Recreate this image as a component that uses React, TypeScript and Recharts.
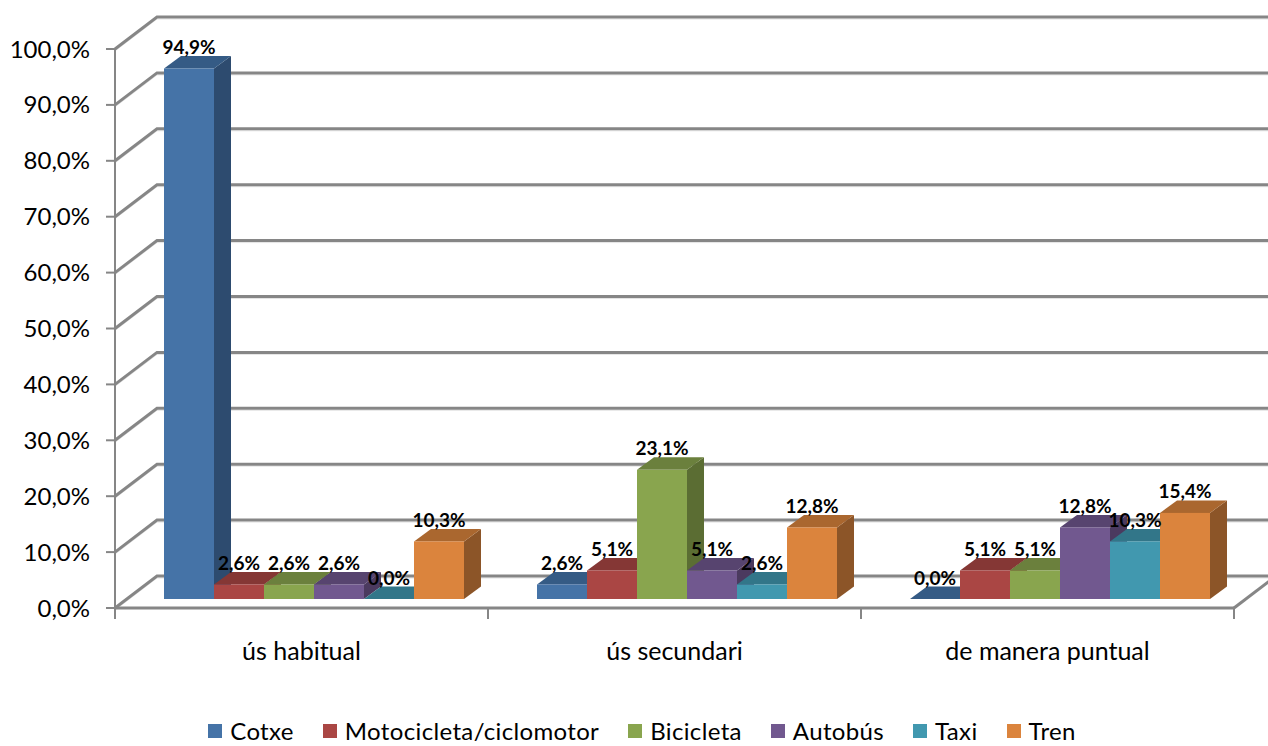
import React from "react";
import { BarChart, Bar, XAxis, YAxis, CartesianGrid, Legend, LabelList } from "recharts";

const categories = ["ús habitual", "ús secundari", "de manera puntual"];
const cotxe = [94.9, 2.6, 0.0];
const moto = [2.6, 5.1, 5.1];
const bicicleta = [2.6, 23.1, 5.1];
const autobus = [2.6, 5.1, 12.8];
const taxi = [0.0, 2.6, 10.3];
const tren = [10.3, 12.8, 15.4];
const yTicks = [0, 10, 20, 30, 40, 50, 60, 70, 80, 90, 100];

const seriesList = [
  { key: "Cotxe", values: cotxe, front: "#4573A7", top: "#355B85", side: "#2D4B6F" },
  { key: "Motocicleta/ciclomotor", values: moto, front: "#AA4644", top: "#853735", side: "#702E2D" },
  { key: "Bicicleta", values: bicicleta, front: "#89A54E", top: "#6B803D", side: "#5B6D33" },
  { key: "Autobús", values: autobus, front: "#71588F", top: "#57446F", side: "#4B3A5F" },
  { key: "Taxi", values: taxi, front: "#4198AF", top: "#327689", side: "#2B6475" },
  { key: "Tren", values: tren, front: "#DB843D", top: "#AA672F", side: "#8C5528" },
];

const rows = categories.map((c, i) => {
  const row: Record<string, string | number> = { category: c };
  seriesList.forEach((s) => {
    row[s.key] = s.values[i];
  });
  return row;
});

const FONT = "Lato, Carlito, sans-serif";
const GRID = "#868686";
const WALL_DX = 42;
const WALL_DY = 32;
const BAR_DX = 17;
const BAR_DY = 12.5;
const SHIFT_X = 12.5;
const SHIFT_Y = -9;
const BAND = 373;

const fmt = (v: number) => v.toFixed(1).replace(".", ",") + "%";

function Bar3D(props: any) {
  const { x, y, width, height, front, top, side } = props;
  const l = x + SHIFT_X;
  const r = l + width;
  const t = y + SHIFT_Y;
  const b = t + height;
  return (
    <g>
      <polygon points={`${r},${t} ${r + BAR_DX},${t - BAR_DY} ${r + BAR_DX},${b - BAR_DY} ${r},${b}`} fill={side} />
      <polygon points={`${l},${t} ${l + BAR_DX},${t - BAR_DY} ${r + BAR_DX},${t - BAR_DY} ${r},${t}`} fill={top} />
      <rect x={l} y={t} width={width} height={height} fill={front} />
    </g>
  );
}

function BarLabel(props: any) {
  const { x, y, width, value } = props;
  return (
    <text
      x={x + SHIFT_X + width / 2}
      y={y + SHIFT_Y - 22}
      textAnchor="middle"
      dominantBaseline="central"
      fontFamily={FONT}
      fontWeight={700}
      fontSize={19}
      fill="#000"
    >
      {fmt(value)}
    </text>
  );
}

function GridLine(props: any) {
  const { x1, y1 } = props;
  return (
    <g>
      <polyline
        points={`${x1},${y1 + 2} ${x1 + WALL_DX},${y1 - WALL_DY + 2} 1268,${y1 - WALL_DY + 2}`}
        fill="none"
        stroke="#E4E4E4"
        strokeWidth={1}
      />
      <polyline
        points={`${x1},${y1} ${x1 + WALL_DX},${y1 - WALL_DY} 1268,${y1 - WALL_DY}`}
        fill="none"
        stroke={GRID}
        strokeWidth={3}
      />
    </g>
  );
}

function XTick(props: any) {
  const { x, y, payload, index } = props;
  const left = x - BAND / 2;
  const right = x + BAND / 2;
  const axisY = y - 8;
  return (
    <g>
      <line x1={left} y1={axisY} x2={left} y2={axisY + 11} stroke={GRID} strokeWidth={2} />
      {index === categories.length - 1 && (
        <g>
          <line x1={right} y1={axisY} x2={right} y2={axisY + 11} stroke={GRID} strokeWidth={2} />
          <line x1={right} y1={axisY} x2={right + WALL_DX} y2={axisY - WALL_DY} stroke={GRID} strokeWidth={3} />
        </g>
      )}
      <text x={x} y={axisY + 52} textAnchor="middle" fontFamily={FONT} fontSize={25} fill="#000">
        {payload.value}
      </text>
    </g>
  );
}

function LegendContent(props: any) {
  return (
    <div style={{ display: "flex", justifyContent: "center", gap: 29, paddingLeft: 16, boxSizing: "border-box", fontFamily: FONT, fontSize: 24, color: "#000", lineHeight: "18px", height: 18 }}>
      {(props.payload || []).map((p: any) => (
        <div key={p.value} style={{ display: "flex", alignItems: "center", gap: 8 }}>
          <span style={{ width: 14, height: 14, background: p.color, display: "inline-block" }} />
          <span style={{ display: "block", letterSpacing: 0.35 }}>{p.value}</span>
        </div>
      ))}
    </div>
  );
}

export default function App() {
  return (
    <div style={{ position: "absolute", left: 0, top: 0, width: 1268, height: 746, overflow: "hidden", background: "#fff" }}>
      <BarChart
        width={1268}
        height={746}
        data={rows}
        margin={{ top: 49, right: 34, bottom: 48, left: 0 }}
        barCategoryGap={36.5}
        barGap={0}
      >
        <CartesianGrid vertical={false} horizontal={GridLine as any} />
        <XAxis
          dataKey="category"
          axisLine={{ stroke: GRID, strokeWidth: 3 }}
          tickLine={false}
          height={60}
          interval={0}
          tick={XTick as any}
        />
        <YAxis
          width={115}
          domain={[0, 100]}
          ticks={yTicks}
          tickFormatter={fmt}
          interval={0}
          axisLine={{ stroke: GRID, strokeWidth: 2 }}
          tickLine={{ stroke: GRID, strokeWidth: 2 }}
          tickSize={9}
          tickMargin={16}
          tick={{ fontFamily: FONT, fontSize: 24, fill: "#000" }}
        />
        <Legend
          verticalAlign="bottom"
          height={30}
          content={LegendContent as any}
          itemSorter={null as any}
          wrapperStyle={{ left: 0, width: 1268, top: 722, bottom: "auto" }}
        />
        {seriesList.map((s) => (
          <Bar
            key={s.key}
            dataKey={s.key}
            name={s.key}
            fill={s.front}
            isAnimationActive={false}
            shape={(p: any) => <Bar3D {...p} front={s.front} top={s.top} side={s.side} />}
          >
            <LabelList dataKey={s.key} content={BarLabel as any} />
          </Bar>
        ))}
      </BarChart>
    </div>
  );
}
